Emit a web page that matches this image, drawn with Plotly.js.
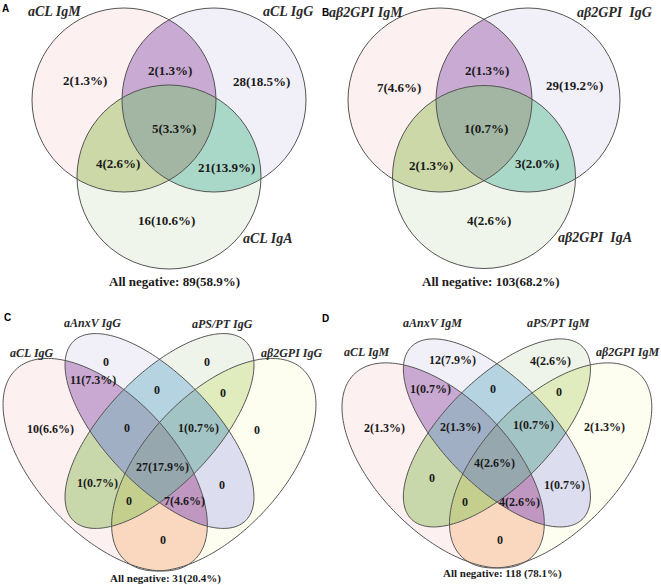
<!DOCTYPE html>
<html><head><meta charset="utf-8">
<script src="https://cdn.plot.ly/plotly-3.0.1.min.js"></script>
<style>html,body{margin:0;padding:0;background:#fff}#chart{width:661px;height:585px}</style>
</head><body><div id="chart"></div>
<script>
// ================= DATA =================
// 3-set panels: bit 1 = first set, 2 = second, 4 = third
const masks3 = [1, 3, 2, 7, 5, 6, 4];
const setsA = ["aCL IgM", "aCL IgG", "aCL IgA"];
const countsA = [2, 2, 28, 5, 4, 21, 16];
const pctsA = ["1.3", "1.3", "18.5", "3.3", "2.6", "13.9", "10.6"];
const negA = 89, negPctA = "58.9";

const setsB = ["aβ2GPI IgM", "aβ2GPI  IgG", "aβ2GPI  IgA"];
const countsB = [7, 2, 29, 1, 2, 3, 4];
const pctsB = ["4.6", "1.3", "19.2", "0.7", "1.3", "2.0", "2.6"];
const negB = 103, negPctB = "68.2";

// 4-set panels: bit 1 = aCL, 2 = aAnxV, 4 = aPS/PT, 8 = aβ2GPI
const masks4 = [1, 2, 4, 8, 3, 6, 12, 7, 14, 15, 5, 10, 13, 11, 9];
const setsC = ["aCL IgG", "aAnxV IgG", "aPS/PT IgG", "aβ2GPI IgG"];
const countsC = [10, 0, 0, 0, 11, 0, 0, 0, 1, 27, 1, 0, 0, 7, 0];
const pctsC = ["6.6", "", "", "", "7.3", "", "", "", "0.7", "17.9", "0.7", "", "", "4.6", ""];
const negC = 31, negPctC = "20.4";

const setsD = ["aCL IgM", "aAnxV IgM", "aPS/PT IgM", "aβ2GPI IgM"];
const countsD = [2, 12, 4, 2, 1, 0, 0, 2, 1, 4, 0, 1, 0, 4, 0];
const pctsD = ["1.3", "7.9", "2.6", "1.3", "0.7", "", "", "1.3", "0.7", "2.6", "", "0.7", "", "2.6", ""];
const negD = 118, negPctD = "78.1";

const panelLetters = ["A", "B", "C", "D"];

// ================= GEOMETRY / STYLE (pixel space) =================
const W = 661, H = 585;
const circA = [[124, 100, 92], [214, 100, 92], [169, 177, 92]];
const circB = [[440, 100, 92], [528, 100, 92], [484, 177, 91.5]];
// quad ellipses in a base frame (cx, cy, a, b, angle deg, y-down)
const quadEll = [[105.2, 464.7, 130.5, 68.6, 47], [159.5, 431, 124.3, 54.5, 46.3],
                 [159.5, 431, 124.3, 54.5, -46.3], [213.8, 464.7, 130.5, 68.6, -47]];
const mapC = {ox: 0, kx: 1, oy: 0, ky: 1};
const mapD = {ox: 339.0, kx: 0.990, oy: 17.0, ky: 0.965};

const col3 = {1: "#FCF0F0", 2: "#F1F0F8", 4: "#EFF5EA", 3: "#C8AAD3", 5: "#CDD8A8", 6: "#A9D8C8", 7: "#A2B6A3"};
const col4 = {1: "#FCF0F0", 2: "#F1F0F8", 4: "#EEF4E9", 8: "#FDFDF0", 3: "#C9A9D2", 6: "#B5D3E0", 12: "#E0EBBE",
  7: "#A0AFC4", 14: "#A3C4C4", 15: "#97A7AE", 5: "#C9D8AA", 10: "#DCDDEE", 13: "#C4CF8E", 11: "#BF97C0", 9: "#FAD8BF"};

const posA = [[85, 80], [170, 70], [261, 81], [174, 128], [118, 163], [226, 167], [166, 220]];
const posB = [[399, 87], [487, 70], [574, 85], [486, 128], [431, 165], [537, 163], [489, 220]];
const posC = [[50, 429], [106, 362], [207, 362], [257, 430], [93, 380], [157, 390], [223, 393], [127, 428], [198, 428], [162, 467], [97, 483], [222, 485], [129, 501], [184, 501], [163, 540]];
const posD = [[384, 428], [452, 360], [550, 361], [604, 427], [430, 389], [493, 389], [559, 392], [460, 427], [533, 425], [494, 463], [432, 478], [564, 485], [465, 502], [519, 502], [500, 540]];
const setPosA = [[54, 11], [288, 11], [268, 238]];
const setPosB = [[366, 12], [614, 12], [595, 237]];
const setPosC = [[32, 353], [92, 323], [222, 324], [291, 353]];
const setPosD = [[367, 352], [432, 323], [558, 323], [627, 352]];
const negPos = [[174, 281], [491, 281], [165, 578], [502, 573]];
const letterPos = [[5, 8], [325, 12], [7, 317], [325, 318]];

// ================= BUILD =================
const colorList = [];
const colorIndex = {};
function cidx(c) { if (!(c in colorIndex)) { colorIndex[c] = colorList.length; colorList.push(c); } return colorIndex[c]; }

function inEll(X, Y, e) {
  const th = e[4] * Math.PI / 180, dx = X - e[0], dy = Y - e[1];
  const u = dx * Math.cos(th) + dy * Math.sin(th), v = -dx * Math.sin(th) + dy * Math.cos(th);
  return (u / e[2]) * (u / e[2]) + (v / e[3]) * (v / e[3]) <= 1;
}
const xs = [], ys = [], z = [];
for (let i = 0; i < W; i++) xs.push(i + 0.5);
for (let j = 0; j < H; j++) ys.push(j + 0.5);
for (let j = 0; j < H; j++) {
  const row = new Array(W).fill(null);
  const py = j + 0.5;
  for (let i = 0; i < W; i++) {
    const px = i + 0.5;
    let m = 0, col = null;
    if (py < 300) {
      const circ = px < 330 ? circA : circB;
      circ.forEach((c, k) => { if ((px - c[0]) ** 2 + (py - c[1]) ** 2 <= c[2] * c[2]) m |= (1 << k); });
      if (m) col = col3[m];
    } else {
      const mp = px < 330 ? mapC : mapD;
      const X = (px - mp.ox) / mp.kx, Y = (py - mp.oy) / mp.ky;
      quadEll.forEach((e, k) => { if (inEll(X, Y, e)) m |= (1 << k); });
      if (m) col = col4[m];
    }
    if (col) row[i] = cidx(col);
  }
  z.push(row);
}
const N = colorList.length;
const cscale = [];
colorList.forEach((c, i) => { cscale.push([i / N, c]); cscale.push([(i + 1) / N, c]); });

const traces = [{
  type: "heatmap", x: xs, y: ys, z: z, zmin: -0.5, zmax: N - 0.5,
  colorscale: cscale, showscale: false, hoverinfo: "skip", zsmooth: false
}];

const shapes = [];
const lineStyle = {color: "#555555", width: 1};
[circA, circB].forEach(circ => circ.forEach(c => shapes.push({
  type: "circle", xref: "x", yref: "y", x0: c[0] - c[2], x1: c[0] + c[2], y0: c[1] - c[2], y1: c[1] + c[2], line: lineStyle
})));
[mapC, mapD].forEach(mp => quadEll.forEach(e => {
  const th = e[4] * Math.PI / 180; let d = "";
  for (let k = 0; k <= 200; k++) {
    const t = 2 * Math.PI * k / 200;
    const X = e[0] + e[2] * Math.cos(t) * Math.cos(th) - e[3] * Math.sin(t) * Math.sin(th);
    const Y = e[1] + e[2] * Math.cos(t) * Math.sin(th) + e[3] * Math.sin(t) * Math.cos(th);
    d += (k ? " L" : "M") + (mp.ox + mp.kx * X).toFixed(2) + "," + (mp.oy + mp.ky * Y).toFixed(2);
  }
  shapes.push({type: "path", xref: "x", yref: "y", path: d + " Z", line: lineStyle});
}));

const serif = "Liberation Serif, Times New Roman, serif";
const ann = [];
function addText(x, y, text, size, color) {
  ann.push({xref: "x", yref: "y", x: x, y: y, text: text, showarrow: false, xanchor: "center", yanchor: "middle",
    font: {family: serif, size: size, color: color}});
}
function regionText(c, p) { return c === 0 ? "0" : c + "(" + p + "%)"; }
const panels = [
  {counts: countsA, pcts: pctsA, pos: posA, sets: setsA, setPos: setPosA, neg: negA, negPct: negPctA, sep: "", fs: 13, ls: 14, ns: 13},
  {counts: countsB, pcts: pctsB, pos: posB, sets: setsB, setPos: setPosB, neg: negB, negPct: negPctB, sep: "", fs: 13, ls: 14, ns: 13},
  {counts: countsC, pcts: pctsC, pos: posC, sets: setsC, setPos: setPosC, neg: negC, negPct: negPctC, sep: "", fs: 12, ls: 12, ns: 11},
  {counts: countsD, pcts: pctsD, pos: posD, sets: setsD, setPos: setPosD, neg: negD, negPct: negPctD, sep: " ", fs: 12, ls: 12, ns: 11}
];
panels.forEach((p, pi) => {
  p.counts.forEach((c, k) => addText(p.pos[k][0], p.pos[k][1], "<b>" + regionText(c, p.pcts[k]) + "</b>", p.fs, "#1a1a1a"));
  p.sets.forEach((s, k) => addText(p.setPos[k][0], p.setPos[k][1], "<b><i>" + s.replace(/  /g, "\u00a0 ") + "</i></b>", p.ls, "#2a2a2a"));
  addText(negPos[pi][0], negPos[pi][1], "<b>All negative: " + p.neg + p.sep + "(" + p.negPct + "%)</b>", p.ns, "#1a1a1a");
  ann.push({xref: "x", yref: "y", x: letterPos[pi][0], y: letterPos[pi][1], text: "<b>" + panelLetters[pi] + "</b>", showarrow: false,
    xanchor: "center", yanchor: "middle", font: {family: "Liberation Sans, Arial, sans-serif", size: 10, color: "#000"}});
});

const layout = {
  width: W, height: H, margin: {l: 0, r: 0, t: 0, b: 0}, paper_bgcolor: "#fff", plot_bgcolor: "#fff",
  xaxis: {range: [0, W], visible: false, fixedrange: true},
  yaxis: {range: [H, 0], visible: false, fixedrange: true},
  shapes: shapes, annotations: ann, showlegend: false
};
Plotly.newPlot("chart", traces, layout, {staticPlot: true, displayModeBar: false});
</script></body></html>
